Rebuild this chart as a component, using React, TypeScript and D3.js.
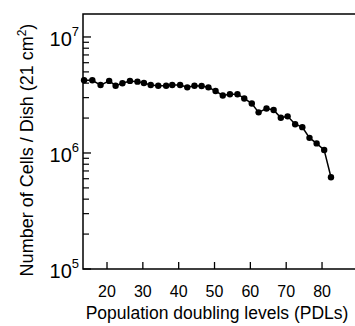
import { useEffect, useRef } from 'react';
import * as d3 from 'd3';

const pdl = [
  13.6, 15.9, 18.2, 20.6, 22.4, 24.3, 26.4, 28.5, 30.3, 32.2, 34.3, 36.5,
  38.2, 40.4, 42.4, 44.4, 46.4, 48.3, 50.3, 52.3, 54.3, 56.4, 58.3, 60.4,
  62.3, 64.5, 66.5, 68.5, 70.4, 72.5, 74.5, 76.5, 78.5, 80.6, 82.5,
];
const cells = [
  4.23e6, 4.23e6, 3.85e6, 4.18e6, 3.8e6, 3.99e6, 4.18e6, 4.12e6, 4.01e6, 3.85e6, 3.8e6, 3.8e6,
  3.85e6, 3.85e6, 3.68e6, 3.8e6, 3.78e6, 3.68e6, 3.42e6, 3.13e6, 3.21e6, 3.21e6, 2.95e6, 2.67e6,
  2.24e6, 2.42e6, 2.35e6, 2.01e6, 2.07e6, 1.77e6, 1.67e6, 1.35e6, 1.21e6, 1.06e6, 6.18e5,
];
const xTicks = [20, 30, 40, 50, 60, 70, 80];
const yMajor = [5, 6, 7];

export default function App() {
  const svgRef = useRef<SVGSVGElement>(null);
  const width = 355;
  const height = 326;

  useEffect(() => {
    if (!svgRef.current) return;
    const svg = d3.select(svgRef.current);
    svg.selectAll('*').remove();

    const left = 83;
    const right = 355;
    const top = 14;
    const bottom = 269;
    const font = 'Liberation Sans, Arial, Helvetica, sans-serif';

    const x = d3.scaleLinear().domain([13.3, 89.2]).range([left, right]);
    const y = d3.scaleLog().domain([1e5, Math.pow(10, 7.198)]).range([bottom, top]);

    // frame: left, bottom, top
    svg.append('path')
      .attr('d', `M${right},${top}H${left}V${bottom}H${right}`)
      .attr('fill', 'none')
      .attr('stroke', '#000')
      .attr('stroke-width', 1.5);

    // x ticks (inward)
    svg.append('g')
      .selectAll('line')
      .data(xTicks)
      .enter()
      .append('line')
      .attr('x1', d => x(d))
      .attr('x2', d => x(d))
      .attr('y1', bottom)
      .attr('y2', bottom - 7)
      .attr('stroke', '#000')
      .attr('stroke-width', 1.3);

    svg.append('g')
      .selectAll('text')
      .data(xTicks)
      .enter()
      .append('text')
      .attr('x', d => x(d))
      .attr('y', 297)
      .attr('text-anchor', 'middle')
      .attr('font-family', font)
      .attr('font-size', '16px')
      .text(d => `${d}`);

    // y ticks
    const minors: number[] = [];
    for (let e = 5; e < 7.2; e++) {
      for (let m = 2; m <= 9; m++) {
        const v = m * Math.pow(10, e);
        if (v < Math.pow(10, 7.198)) minors.push(v);
      }
    }
    svg.append('g')
      .selectAll('line')
      .data(minors)
      .enter()
      .append('line')
      .attr('x1', left)
      .attr('x2', left + 6)
      .attr('y1', d => y(d))
      .attr('y2', d => y(d))
      .attr('stroke', '#000')
      .attr('stroke-width', 1.2);

    svg.append('g')
      .selectAll('line')
      .data(yMajor)
      .enter()
      .append('line')
      .attr('x1', left)
      .attr('x2', left + 8)
      .attr('y1', d => y(Math.pow(10, d)))
      .attr('y2', d => y(Math.pow(10, d)))
      .attr('stroke', '#000')
      .attr('stroke-width', 1.3);

    const yl = svg.append('g')
      .selectAll('text')
      .data(yMajor)
      .enter()
      .append('text')
      .attr('x', 79)
      .attr('y', d => y(Math.pow(10, d)) + 9)
      .attr('text-anchor', 'end')
      .attr('font-family', font)
      .attr('font-size', '20px');
    yl.append('tspan').text('10');
    yl.append('tspan')
      .attr('dy', -10)
      .attr('font-size', '13px')
      .text(d => `${d}`);

    // series
    const pts = pdl.map((p, i) => [p, cells[i]] as [number, number]);
    svg.append('path')
      .datum(pts)
      .attr('d', d3.line<[number, number]>().x(d => x(d[0])).y(d => y(d[1])))
      .attr('fill', 'none')
      .attr('stroke', '#000')
      .attr('stroke-width', 1.5);

    svg.append('g')
      .selectAll('circle')
      .data(pts)
      .enter()
      .append('circle')
      .attr('cx', d => x(d[0]))
      .attr('cy', d => y(d[1]))
      .attr('r', 3.2)
      .attr('fill', '#000');

    // titles
    svg.append('text')
      .attr('x', 217)
      .attr('y', 319)
      .attr('text-anchor', 'middle')
      .attr('font-family', font)
      .attr('font-size', '17.5px')
      .text('Population doubling levels (PDLs)');

    const yt = svg.append('text')
      .attr('transform', 'translate(33,150) rotate(-90)')
      .attr('text-anchor', 'middle')
      .attr('font-family', font)
      .attr('font-size', '18px');
    yt.append('tspan').text('Number of Cells / Dish (21 cm');
    yt.append('tspan').attr('dy', -7).attr('font-size', '12px').text('2');
    yt.append('tspan').attr('dy', 7).text(')');
  }, []);

  return (
    <svg
      ref={svgRef}
      width={width}
      height={height}
      style={{ position: 'absolute', left: 0, top: 0, background: '#fff' }}
    />
  );
}
